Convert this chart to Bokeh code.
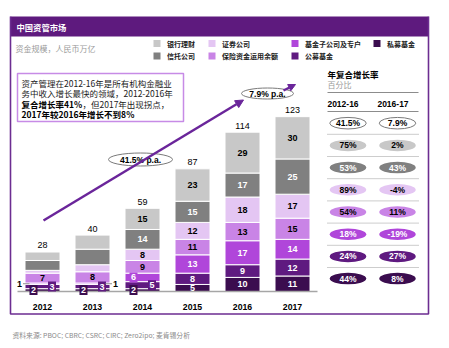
from bokeh.plotting import figure
from bokeh.models import Range1d, Arrow, NormalHead, ColumnDataSource
from bokeh.embed import file_html
from bokeh.resources import INLINE
from bokeh.core.properties import value

# ---------------- data ----------------
years = ["2012", "2013", "2014", "2015", "2016", "2017"]
totals = [28, 40, 59, 87, 114, 123]
private_funds = [2, 2, 2, 5, 10, 11]        # 私募基金
mutual_funds = [3, 3, 5, 8, 9, 12]          # 公募基金
fund_subsidiaries = [1, 1, 6, 13, 17, 14]   # 基金子公司及专户
insurance = [7, 8, 9, 11, 13, 15]           # 保险资金运用余额
securities = [2, 5, 8, 12, 18, 17]          # 证券公司
trusts = [7, 11, 14, 15, 17, 25]            # 信托公司
bank_wm = [6, 10, 15, 23, 29, 30]           # 银行理财

series_names = ["私募基金", "公募基金", "基金子公司及专户", "保险资金运用余额",
                "证券公司", "信托公司", "银行理财"]          # bottom -> top
series_values = [private_funds, mutual_funds, fund_subsidiaries, insurance,
                 securities, trusts, bank_wm]
legend_rows = [["银行理财", "证券公司", "基金子公司及专户", "私募基金"],
               ["信托公司", "保险资金运用余额", "公募基金"]]

cagr_rows = ["合计", "银行理财", "信托公司", "证券公司", "保险资金运用余额",
             "基金子公司及专户", "公募基金", "私募基金"]
cagr_2012_16 = [41.5, 75, 53, 89, 54, 18, 24, 44]
cagr_2016_17 = [7.9, 2, 43, -4, 11, -19, 27, 8]
cagr_headers = ["2012-16", "2016-17"]
trend_cagr = [41.5, 7.9]

# labels not printed inside their segment in the original
hidden = {(y, s) for y in ["2012", "2013"] for s in ["证券公司", "信托公司", "银行理财"]}
callouts = [("2012", "基金子公司及专户", "leader_left"), ("2012", "私募基金", "box_left"),
            ("2012", "公募基金", "box_right"), ("2013", "基金子公司及专户", "leader_right"),
            ("2013", "私募基金", "box_left"), ("2013", "公募基金", "box_right"),
            ("2014", "私募基金", "box_left"), ("2014", "公募基金", "box_right"),
            ("2014", "基金子公司及专户", "box_left")]

# ---------------- style ----------------
W, H = 449, 348
PXX, PXY = 50.0, 1.41      # pixels per x unit / per value unit
X0, BASE = 42.0, 291.0     # pixel of first bar centre / baseline
COLORS = {"私募基金": "#3b0d4f", "公募基金": "#5f1a80", "基金子公司及专户": "#b046da",
          "保险资金运用余额": "#c984e6", "证券公司": "#e4c6f3", "信托公司": "#808080",
          "银行理财": "#c8c8c8"}
WHITE_TEXT = {"私募基金", "公募基金", "基金子公司及专户", "信托公司"}
PURPLE = "#5e1a7e"
FRAME = "#6c2d91"
ARROW = "#6a259a"
CJK = "Noto Sans CJK SC"
LAT = "Liberation Sans"

p = figure(width=W, height=H, output_backend="svg", toolbar_location=None,
           x_range=Range1d(-X0 / PXX, (W - X0) / PXX),
           y_range=Range1d(-(H - BASE) / PXY, BASE / PXY),
           x_axis_location=None, y_axis_location=None,
           min_border=0, min_border_left=0, min_border_right=0,
           min_border_top=0, min_border_bottom=0)
p.grid.visible = False
p.outline_line_color = None
p.background_fill_color = "white"
p.border_fill_color = "white"
p.extra_x_ranges = {"px": Range1d(0, W)}
p.extra_y_ranges = {"px": Range1d(H, 0)}
PX = dict(x_range_name="px", y_range_name="px")


def txt(x, y, s, size, color="#000000", bold=False, align="left", baseline="middle",
        font=CJK, xr="px", yr="px"):
    xs = x if isinstance(x, list) else [x]
    ys = y if isinstance(y, list) else [y]
    ss = s if isinstance(s, list) else [s]
    p.text(x=xs, y=ys, text=ss, x_range_name=xr, y_range_name=yr,
           text_font=value(font), text_font_size=size,
           text_font_style="bold" if bold else "normal", text_color=color,
           text_align=align, text_baseline=baseline)


# ---------------- frame & header ----------------
p.quad(left=[10], right=[428], top=[16], bottom=[36], fill_color=PURPLE,
       line_color=None, **PX)
p.line(x=[10, 10, 428, 428], y=[16, 313.5, 313.5, 16], line_color=FRAME,
       line_width=1.6, **PX)
txt(16, 26, "中国资管市场", "8.3px", color="white", bold=True)
txt(15, 48, "资金规模，人民币万亿", "8px", color="#9a9a9a")

# legend
leg_x = [153, 208, 291, 373]
for r, row in enumerate(legend_rows):
    for c, name in enumerate(row):
        yy = 43 + r * 12.5
        p.rect(x=[leg_x[c] + 3.5], y=[yy], width=7, height=7, fill_color=COLORS[name],
               line_color=None, **PX)
        txt(leg_x[c] + 13.5, yy, name, "7px", color="#222222", bold=True)

# ---------------- bars ----------------
xs = list(range(len(years)))
src = ColumnDataSource(dict(x=xs, **{n: v for n, v in zip(series_names, series_values)}))
p.vbar_stack(series_names, x="x", width=0.7, source=src,
             fill_color=[COLORS[n] for n in series_names], line_color="white",
             line_width=1)
p.line(x=[-0.5, len(years) - 0.5], y=[0, 0], line_color="#a6a6a6", line_width=1.5)

callout_map = {(y, s): k for y, s, k in callouts}
for i, yr in enumerate(years):
    cum = 0
    for name, vals in zip(series_names, series_values):
        v = vals[i]
        mid = cum + v / 2
        cum += v
        key = (yr, name)
        tcol = "white" if name in WHITE_TEXT else "black"
        if key in hidden:
            continue
        kind = callout_map.get(key)
        if kind is None:
            txt(i, mid, str(v), "9px", color=tcol, bold=True, align="center",
                font=LAT, xr="default", yr="default")
        elif kind.startswith("box"):
            off = -9 if kind == "box_left" else 9.5
            p.rect(x=[i + off / PXX], y=[mid], width=8 / PXX, height=10 / PXY,
                   fill_color=COLORS[name], line_color=None)
            txt(i + off / PXX, mid, str(v), "9px", color=tcol, bold=True,
                align="center", font=LAT, xr="default", yr="default")
        else:
            if kind == "leader_left":
                p.line(x=[i - 19.5 / PXX, i - 13 / PXX], y=[mid, mid],
                       line_color="#909090", line_width=1)
                txt(i - 20.5 / PXX, mid, str(v), "9px", bold=True, align="right",
                    font=LAT, xr="default", yr="default")
            else:
                p.line(x=[i + 13 / PXX, i + 19.5 / PXX], y=[mid, mid],
                       line_color="#909090", line_width=1)
                txt(i + 20.5 / PXX, mid, str(v), "9px", bold=True, align="left",
                    font=LAT, xr="default", yr="default")
    txt(i, cum + 2.5, str(totals[i]), "9px", align="center", baseline="bottom",
        font=LAT, xr="default", yr="default")
    txt(i, 306, yr, "8.7px", bold=True, align="center", font=LAT,
        xr="default", yr="px")

# ---------------- annotation box ----------------
p.quad(left=[17], right=[183], top=[73], bottom=[121], fill_color="white",
       line_color="#c78be6", line_width=1.5, **PX)
txt(21, 82, "资产管理在2012-16年是所有机构金融业", "8.5px", color="#1a1a1a")
txt(21, 92.5, "务中收入增长最快的领域，2012-2016年", "8.5px", color="#1a1a1a")
txt(21, 103, "复合增长率41%", "8.5px", bold=True)
txt(82, 103, "，但2017年出现拐点，", "8.5px", color="#1a1a1a")
txt(21, 113, "2017年较2016年增长不到8%", "8.5px", bold=True)

# ---------------- trend arrows ----------------
p.add_layout(Arrow(end=NormalHead(size=8, fill_color=ARROW, line_color=ARROW),
                   x_start=43, y_start=220, x_end=243, y_end=99.5,
                   line_color=ARROW, line_width=2.5, **PX))
p.add_layout(Arrow(end=NormalHead(size=7, fill_color=ARROW, line_color=ARROW),
                   x_start=283, y_start=90, x_end=295, y_end=84,
                   line_color=ARROW, line_width=2.5, **PX))
p.ellipse(x=[140, 267], y=[159, 93], width=[64, 52], height=[13, 11],
          fill_color="white", line_color="#7a7a7a", line_width=1, **PX)
txt([140, 267], [159, 93], [f"{v:g}% p.a." for v in trend_cagr], "8.5px",
    bold=True, align="center", font=LAT)

# ---------------- CAGR table ----------------
txt(327, 73, "年复合增长率", "8.5px", bold=True)
txt(327, 83.5, "百分比", "8px", color="#9a9a9a")
p.line(x=[327, 418], y=[92, 92], line_color="#8c8c8c", line_width=1.2, **PX)
p.line(x=[327, 418], y=[111, 111], line_color="#8c8c8c", line_width=1.2, **PX)
col_x = [347.5, 397]
txt([342.5, 392.5], [103, 103], cagr_headers, "8.5px", bold=True, align="center",
    font=LAT)
row_y0, row_dy = 122.7, 22.2
for r, name in enumerate(cagr_rows):
    yy = row_y0 + r * row_dy
    if r == 0:
        fill, edge, tc = "white", "#7a7a7a", "black"
    else:
        fill, edge = COLORS[name], None
        tc = "white" if name in WHITE_TEXT else "black"
    p.ellipse(x=col_x, y=[yy, yy], width=36.5, height=11.5, fill_color=fill,
              line_color=edge, line_width=1, **PX)
    txt(col_x, [yy, yy], [f"{cagr_2012_16[r]:g}%", f"{cagr_2016_17[r]:g}%"], "8.5px",
        color=tc, bold=True, align="center", font=LAT)
    if r < len(cagr_rows) - 1:
        p.line(x=[327, 418], y=[yy + row_dy / 2] * 2, line_color="#9a9a9a",
               line_width=1, line_dash="1 1", **PX)

# ---------------- footer ----------------
txt(12, 334, "资料来源: PBOC; CBRC; CSRC; CIRC; Zero2ipo; 麦肯锡分析", "6.8px",
    color="#8a8a8a")

open("out.html", "w").write(file_html(p, INLINE))
